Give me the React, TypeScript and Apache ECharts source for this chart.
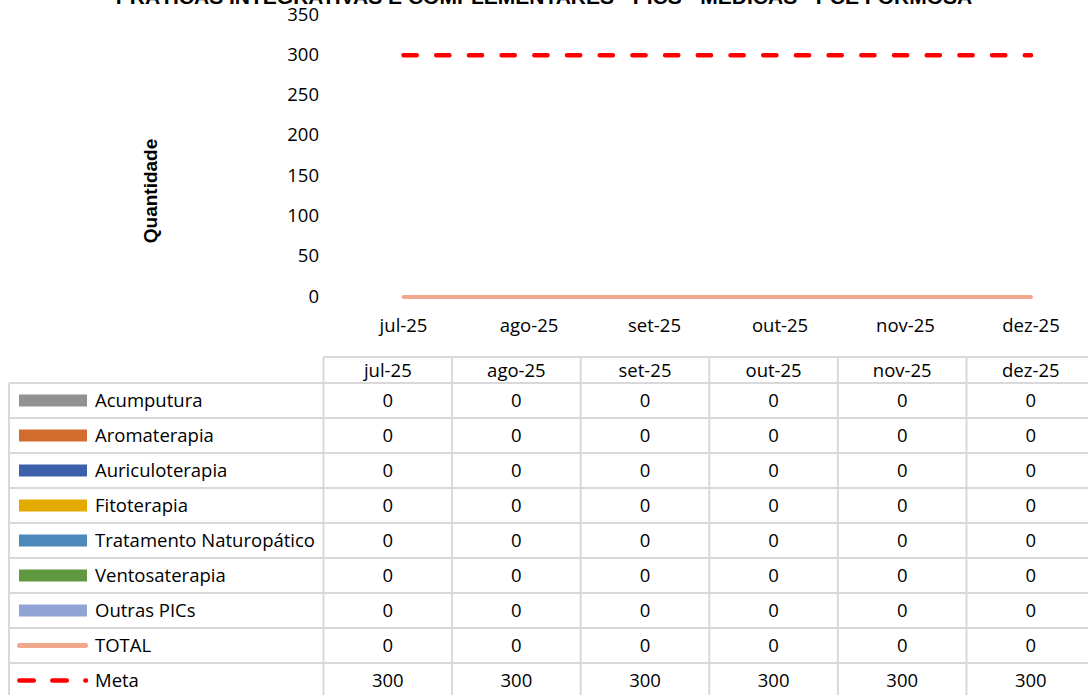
import React, { useEffect, useRef } from "react";
import * as echarts from "echarts";

const TITLE = "PRÁTICAS INTEGRATIVAS E COMPLEMENTARES - PICS - MÉDICAS - PCE FORMOSA";
const Y_NAME = "Quantidade";
const months = ["jul-25", "ago-25", "set-25", "out-25", "nov-25", "dez-25"];

const acumputura = [0, 0, 0, 0, 0, 0];
const aromaterapia = [0, 0, 0, 0, 0, 0];
const auriculoterapia = [0, 0, 0, 0, 0, 0];
const fitoterapia = [0, 0, 0, 0, 0, 0];
const tratamentoNaturopatico = [0, 0, 0, 0, 0, 0];
const ventosaterapia = [0, 0, 0, 0, 0, 0];
const outrasPics = [0, 0, 0, 0, 0, 0];
const total = [0, 0, 0, 0, 0, 0];
const meta = [300, 300, 300, 300, 300, 300];

const Y_MIN = 0;
const Y_MAX = 350;
const Y_INTERVAL = 50;

const barNames = [
  "Acumputura",
  "Aromaterapia",
  "Auriculoterapia",
  "Fitoterapia",
  "Tratamento Naturopático",
  "Ventosaterapia",
  "Outras PICs",
];
const barValues = [
  acumputura,
  aromaterapia,
  auriculoterapia,
  fitoterapia,
  tratamentoNaturopatico,
  ventosaterapia,
  outrasPics,
];
const barColors = ["#919191", "#D26C2E", "#3C60AA", "#E3AA00", "#4E89BC", "#609840", "#8FA3D4"];
const TOTAL_COLOR = "#F3A88E";
const META_COLOR = "#FF0000";

const FONT = "'Open Sans', sans-serif";
const FS = 18.5;
const GRID_COLOR = "#D9D9D9";

function buildTable(): any[] {
  const els: any[] = [];
  const leftX = 9;
  const col0 = 323.5;
  const colW = 128.6;
  const headTop = 357;
  const rowTop = 383;
  const rowH = 35;
  const rows = [
    ...barNames.map((n, i) => ({ name: n, values: barValues[i], kind: "bar", color: barColors[i] })),
    { name: "TOTAL", values: total, kind: "total", color: TOTAL_COLOR },
    { name: "Meta", values: meta, kind: "meta", color: META_COLOR },
  ];
  const nRows = rows.length;
  const bottom = rowTop + rowH * nRows;
  const rightX = col0 + colW * months.length;
  const ls = { stroke: GRID_COLOR, lineWidth: 2 };
  els.push({ type: "line", shape: { x1: col0, y1: headTop, x2: rightX, y2: headTop }, style: ls, silent: true });
  for (let i = 0; i <= nRows; i++) {
    const y = rowTop + rowH * i;
    els.push({ type: "line", shape: { x1: leftX, y1: y, x2: rightX, y2: y }, style: ls, silent: true });
  }
  els.push({ type: "line", shape: { x1: leftX, y1: rowTop, x2: leftX, y2: bottom }, style: ls, silent: true });
  for (let j = 0; j <= months.length; j++) {
    const x = col0 + colW * j;
    els.push({ type: "line", shape: { x1: x, y1: headTop, x2: x, y2: bottom }, style: ls, silent: true });
  }
  months.forEach((m, j) => {
    els.push({
      type: "text",
      x: col0 + colW * j + colW / 2,
      y: (headTop + rowTop) / 2 - 1,
      style: { text: m, fill: "#000", font: `${FS}px ${FONT}`, align: "center", verticalAlign: "middle" },
      silent: true,
    });
  });
  rows.forEach((r, i) => {
    const cy = rowTop + rowH * i + rowH / 2;
    if (r.kind === "bar") {
      els.push({ type: "rect", shape: { x: 19, y: cy - 6, width: 68, height: 12 }, style: { fill: r.color }, silent: true });
    } else if (r.kind === "total") {
      els.push({
        type: "line",
        shape: { x1: 19.5, y1: cy, x2: 85.5, y2: cy },
        style: { stroke: r.color, lineWidth: 5, lineCap: "round" },
        silent: true,
      });
    } else {
      els.push({
        type: "line",
        shape: { x1: 19.3, y1: cy, x2: 86, y2: cy },
        style: { stroke: r.color, lineWidth: 4.5, lineCap: "round", lineDash: [14.5, 18.5] },
        silent: true,
      });
    }
    els.push({
      type: "text",
      x: 95,
      y: cy - 1,
      style: { text: r.name, fill: "#000", font: `${FS}px ${FONT}`, align: "left", verticalAlign: "middle" },
      silent: true,
    });
    r.values.forEach((v: number, j: number) => {
      els.push({
        type: "text",
        x: col0 + colW * j + colW / 2,
        y: cy - 1,
        style: { text: String(v), fill: "#000", font: `${FS}px ${FONT}`, align: "center", verticalAlign: "middle" },
        silent: true,
      });
    });
  });
  return els;
}

export default function App() {
  const ref = useRef<HTMLDivElement>(null);
  useEffect(() => {
    if (!ref.current) return;
    const chart = echarts.init(ref.current, null, { renderer: "svg" });
    const series: any[] = barNames.map((n, i) => ({
      name: n,
      type: "bar",
      stack: "pics",
      data: barValues[i],
      itemStyle: { color: barColors[i] },
      barWidth: "50%",
    }));
    series.push({
      name: "TOTAL",
      type: "line",
      data: total,
      symbol: "none",
      lineStyle: { color: TOTAL_COLOR, width: 4, cap: "round" },
      itemStyle: { color: TOTAL_COLOR },
      z: 3,
    });
    series.push({
      name: "Meta",
      type: "line",
      data: meta,
      symbol: "none",
      lineStyle: { color: META_COLOR, width: 4.5, type: [13.2, 19.5], cap: "round" },
      itemStyle: { color: META_COLOR },
      z: 4,
    });
    chart.setOption({
      animation: false,
      backgroundColor: "#fff",
      title: {
        text: TITLE,
        left: "center",
        top: -14.5,
        padding: 0,
        textStyle: { fontFamily: "'Liberation Sans', Arial, sans-serif", fontWeight: "bold", fontSize: 21, lineHeight: 22, color: "#000" },
      },
      grid: { left: 403.5, right: 57, top: 15, bottom: 398, containLabel: false },
      xAxis: {
        type: "category",
        data: months,
        boundaryGap: false,
        axisLine: { show: false },
        axisTick: { show: false },
        axisLabel: { color: "#000", fontFamily: FONT, fontSize: FS, margin: 16, lineHeight: 22 },
        splitLine: { show: false },
      },
      yAxis: {
        type: "value",
        min: Y_MIN,
        max: Y_MAX,
        interval: Y_INTERVAL,
        axisLine: { show: false },
        axisTick: { show: false },
        splitLine: { show: false },
        axisLabel: {
          color: "#000",
          fontFamily: FONT,
          fontSize: FS,
          margin: 84.5,
          verticalAlign: "bottom",
          lineHeight: 4,
        },
      },
      series,
      graphic: [
        {
          type: "text",
          x: 150,
          y: 191,
          rotation: Math.PI / 2,
          style: {
            text: Y_NAME,
            fill: "#000",
            font: "bold 19px 'Liberation Sans', Arial, sans-serif",
            align: "center",
            verticalAlign: "middle",
          },
          silent: true,
        },
        ...buildTable(),
      ],
    });
    return () => chart.dispose();
  }, []);
  return (
    <div
      ref={ref}
      style={{ position: "fixed", left: 0, top: 0, width: 1088, height: 695, background: "#fff" }}
    />
  );
}
